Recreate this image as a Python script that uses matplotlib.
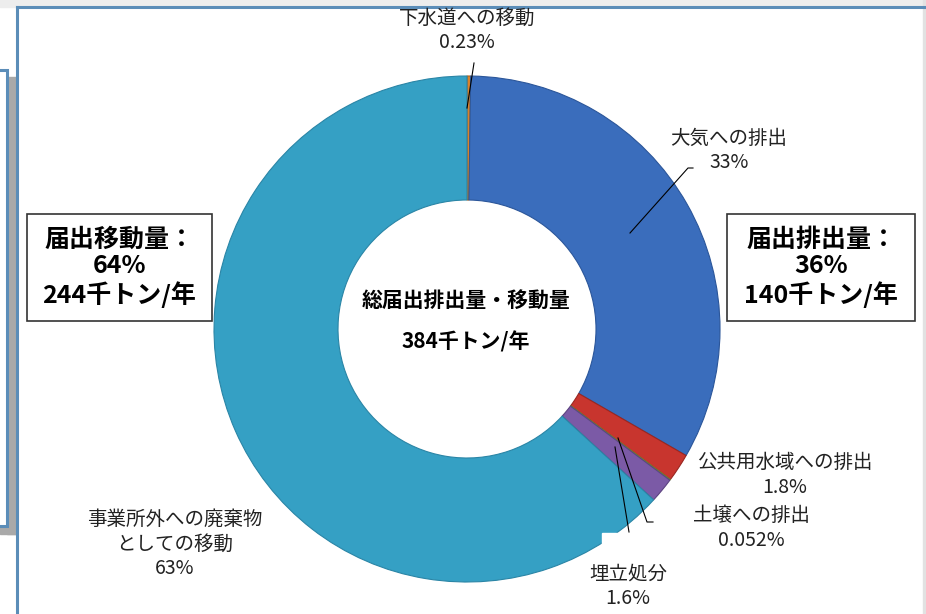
import matplotlib
matplotlib.use("Agg")
import matplotlib.pyplot as plt
from matplotlib.patches import Rectangle

plt.rcParams['font.family'] = ['Noto Sans CJK JP', 'DejaVu Sans']

# data
categories = ['下水道への移動', '大気への排出', '公共用水域への排出',
              '土壌への排出', '埋立処分', '事業所外への廃棄物\nとしての移動']
shares = [0.23, 33, 1.8, 0.052, 1.6, 63]
share_text = ['0.23%', '33%', '1.8%', '0.052%', '1.6%', '63%']
colors = ['#D9822B', '#3A6DBC', '#C8352E', '#8DB33A', '#7B5AA6', '#35A0C4']
edges = ['#A8601C', '#2B569A', '#9A2620', '#6A8A2A', '#5C4380', '#2A85A6']

total_label = '総届出排出量・移動量'
total_value = '384千トン/年'
release_box = '届出排出量：\n36%\n140千トン/年'
transfer_box = '届出移動量：\n64%\n244千トン/年'

W, H = 926, 614
fig = plt.figure(figsize=(W / 100, H / 100), dpi=100)
ax = fig.add_axes([0, 0, 1, 1])


def Y(y):
    return H - y


# background frame
ax.add_patch(Rectangle((0, Y(7)), W, 7, color='#EDEDED', zorder=0))
ax.add_patch(Rectangle((W - 3, 0), 3, H, color='#E2E2E2', zorder=0))
# partly hidden box on the left with its shadow
ax.add_patch(Rectangle((7, Y(534)), 10, 457, color='#A9A9A9', zorder=1))
ax.add_patch(Rectangle((0, Y(534)), 17, 8, color='#A9A9A9', zorder=1))
ax.add_patch(Rectangle((-3, Y(526)), 10, 456, facecolor='white',
                       edgecolor='#5B8DB8', lw=2.2, zorder=2))
ax.plot([17, W], [Y(7), Y(7)], color='#5B8DB8', lw=2.2, zorder=3)
ax.plot([17, 17], [Y(7), 0], color='#5B8DB8', lw=2.2, zorder=3)

# donut
cx, cy, r = 467, Y(329), 253
wedges, _ = ax.pie(shares, colors=colors, startangle=90, counterclock=False,
                   center=(cx, cy), radius=r,
                   wedgeprops=dict(width=124, linewidth=0.8))
for w, ec in zip(wedges, edges):
    w.set_edgecolor(ec)
    w.set_zorder(4)

# white patch from the label box of 埋立処分
ax.add_patch(Rectangle((602, Y(614)), 60, 81, color='white', zorder=5))

# leader lines
lk = dict(color='black', lw=0.8, zorder=6)
ax.plot([474, 467], [Y(63), Y(108)], **lk)
ax.plot([693, 688, 630], [Y(168), Y(168), Y(233)], **lk)
ax.plot([618, 647, 653], [Y(438), Y(522), Y(522)], **lk)
ax.plot([615, 629], [Y(447), Y(532)], **lk)

# slice labels
tk = dict(fontsize=14, ha='center', va='center', color='#222222',
          linespacing=1.2, zorder=7)
label_pos = [(467, 30), (729, 150), (785, 475), (751, 528), (628, 586),
             (175, 544)]
for name, pct, (x, y) in zip(categories, share_text, label_pos):
    ax.text(x, Y(y), name + '\n' + pct, **tk)

# centre text
ax.text(466, Y(300), total_label, fontsize=15, fontweight='bold',
        ha='center', va='center', zorder=7)
ax.text(466, Y(342), total_value, fontsize=15, fontweight='bold',
        ha='center', va='center', zorder=7)

# boxed summaries
bk = dict(fontsize=18, fontweight='bold', ha='center', va='center',
          linespacing=1.15, zorder=8)
ax.add_patch(Rectangle((27, Y(321)), 185, 107, facecolor='white',
                       edgecolor='#333333', lw=1.2, zorder=7))
ax.text(119, Y(268), transfer_box, **bk)
ax.add_patch(Rectangle((727, Y(321)), 188, 107, facecolor='white',
                       edgecolor='#333333', lw=1.2, zorder=7))
ax.text(821, Y(268), release_box, **bk)

ax.set_xlim(0, W)
ax.set_ylim(0, H)
ax.set_aspect('auto')
ax.axis('off')
fig.savefig('out.png', dpi=100)
